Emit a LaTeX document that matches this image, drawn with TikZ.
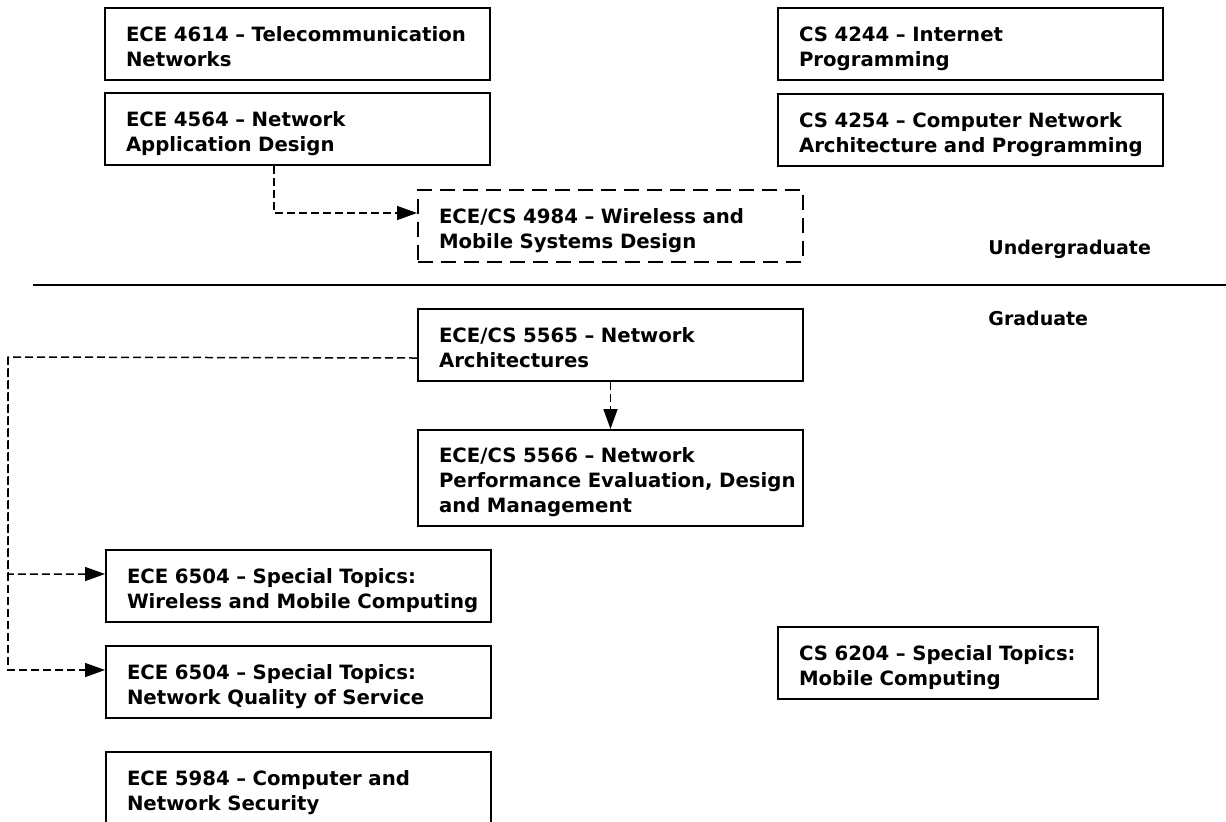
\documentclass[tikz,border=0pt]{standalone}
\usepackage{fontspec}
\setmainfont{DejaVu Sans}
\usepackage{tikz}
\usetikzlibrary{arrows.meta,positioning,calc}

\tikzset{
  course/.style={
    draw, line width=1pt, anchor=north west, align=left,
    text width=171.5pt, inner xsep=10.5pt, inner ysep=0pt,
    minimum height=36pt, font=\fontsize{9.85pt}{12.5pt}\selectfont\bfseries,
    execute at begin node={\hyphenpenalty=10000\rightskip=0pt plus 1fil minus 20pt\rule{0pt}{12.5pt}},
    execute at end node={\rule[-3pt]{0pt}{3pt}}
  },
  course3/.style={course, minimum height=48pt},
  shortcourse/.style={course, text width=139pt},
  newcourse/.style={course, dash pattern=on 7.5pt off 4pt},
  prereq/.style={-{Triangle[length=10pt, width=7pt]}, line width=0.75pt, dash pattern=on 4pt off 2pt},
  levelsep/.style={line width=1pt},
  level/.style={anchor=base west, inner sep=0pt, font=\fontsize{9.5pt}{12.5pt}\selectfont\bfseries}
}

\begin{document}
\begin{tikzpicture}[x=0.5pt, y=-0.5pt]
  \useasboundingbox (0,0) rectangle (1226,821);
  % undergraduate courses
  \node[course] (ece4614) at (104,7) {ECE 4614 -- Telecommunication\\Networks};
  \node[course] (ece4564) at (104,92) {ECE 4564 -- Network\\Application Design};
  \node[newcourse] (ece4984) at (417,189) {ECE/CS 4984 -- Wireless and\\Mobile Systems Design};
  \node[course] (cs4244) at (777,7) {CS 4244 -- Internet\\Programming};
  \node[course] (cs4254) at (777,93) {CS 4254 -- Computer Network\\Architecture and Programming};
  % level separator
  \draw[levelsep] (33,285) -- (1226,285);
  \node[level] (ugrad) at (988,254) {Undergraduate};
  \node[level] (grad) at (988,325) {Graduate};
  % graduate courses
  \node[course] (ece5565) at (417,308) {ECE/CS 5565 -- Network\\Architectures};
  \node[course3] (ece5566) at (417,429) {ECE/CS 5566 -- Network\\Performance Evaluation, Design\\and Management};
  \node[course] (ece6504a) at (105,549) {ECE 6504 -- Special Topics:\\Wireless and Mobile Computing};
  \node[course] (ece6504b) at (105,645) {ECE 6504 -- Special Topics:\\Network Quality of Service};
  \node[course] (ece5984) at (105,751) {ECE 5984 -- Computer and\\Network Security};
  \node[shortcourse] (cs6204) at (777,626) {CS 6204 -- Special Topics:\\Mobile Computing};
  % prerequisites
  \coordinate (trunk) at (8,357);
  \draw[prereq] ([xshift=-11.75pt]ece4564.south) |- ([yshift=6.5pt]ece4984.west);
  \draw[prereq] (ece5565.south) -- (ece5566.north);
  \draw[prereq] ([yshift=-6.5pt]ece5565.west) -- (trunk) |- ([yshift=6pt]ece6504a.west);
  \draw[prereq] (trunk) |- ([yshift=6pt]ece6504b.west);
\end{tikzpicture}
\end{document}
